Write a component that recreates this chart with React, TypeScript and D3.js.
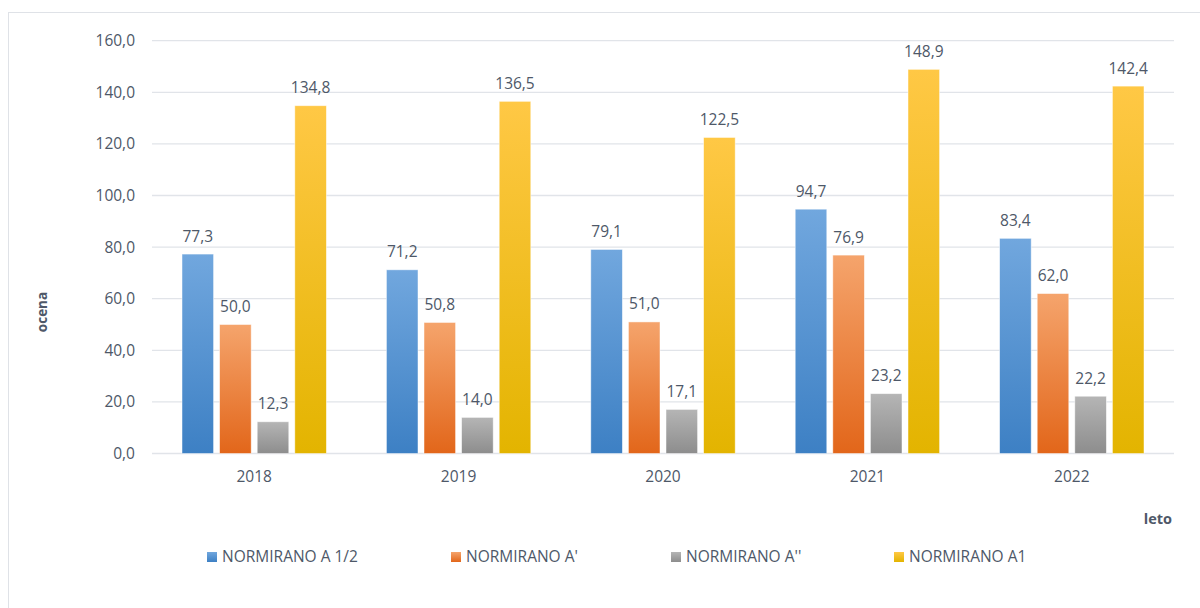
import React from "react";
import * as d3 from "d3";

const years = ["2018", "2019", "2020", "2021", "2022"];
const seriesNames = ["NORMIRANO A 1/2", "NORMIRANO A'", "NORMIRANO A''", "NORMIRANO A1"];
const valuesA12 = [77.3, 71.2, 79.1, 94.7, 83.4];
const valuesA1p = [50.0, 50.8, 51.0, 76.9, 62.0];
const valuesA2p = [12.3, 14.0, 17.1, 23.2, 22.2];
const valuesA1 = [134.8, 136.5, 122.5, 148.9, 142.4];
const yTicks = [0, 20, 40, 60, 80, 100, 120, 140, 160];

const seriesValues = [valuesA12, valuesA1p, valuesA2p, valuesA1];
const gradients = [
  ["#71a7de", "#3d80c4"],
  ["#f5a46c", "#e2661a"],
  ["#b5b5b5", "#8d8d8d"],
  ["#ffc845", "#e3b400"],
];

const W = 1200;
const H = 608;
const left = 152;
const right = 1174;
const top = 40.7;
const bottom = 453.5;
const textColor = "#4e5868";
const font = "'Open Sans', 'Noto Sans', sans-serif";
const fs = 15.5;

export default function App() {
  const x = d3.scaleBand<string>().domain(years).range([left, right]).paddingInner(0).paddingOuter(0);
  const y = d3.scaleLinear().domain([0, 160]).range([bottom, top]);
  const slot = 37.6;
  const barW = 31.6;
  const groupW = slot * 3 + barW;
  const fmt = (v: number) => v.toFixed(1).replace(".", ",");
  const legendX = [207, 451, 671, 894];

  return (
    <svg width={W} height={H} style={{ position: "fixed", left: 0, top: 0, background: "#fff" }} fontFamily={font}>
      <defs>
        {gradients.map((g, i) => (
          <linearGradient key={i} id={`g${i}`} x1="0" y1="0" x2="0" y2="1">
            <stop offset="0" stopColor={g[0]} />
            <stop offset="1" stopColor={g[1]} />
          </linearGradient>
        ))}
      </defs>
      <rect x={8.5} y={12.5} width={W} height={H} fill="#fff" stroke="#dfe2e7" strokeWidth={1} />
      {yTicks.map((t) => (
        <g key={t}>
          <line x1={left} x2={right} y1={y(t)} y2={y(t)} stroke="#e1e4e9" strokeWidth={1.3} />
          <text x={135} y={y(t)} dy="0.36em" textAnchor="end" fontSize={fs} fill={textColor}>
            {fmt(t)}
          </text>
        </g>
      ))}
      {years.map((yr, j) => {
        const cx = (x(yr) as number) + x.bandwidth() / 2;
        const x0 = cx - groupW / 2;
        return (
          <g key={yr}>
            {seriesValues.map((vals, i) => {
              const v = vals[j];
              const bx = x0 + i * slot;
              return (
                <g key={i}>
                  <rect
                    x={bx}
                    y={y(v)}
                    width={barW}
                    height={y(0) - y(v)}
                    fill={`url(#g${i})`}
                    stroke="#fff"
                    strokeOpacity={0.6}
                    strokeWidth={0.8}
                  />
                  <text x={bx + barW / 2} y={y(v) - 12.5} textAnchor="middle" fontSize={fs} fill={textColor}>
                    {fmt(v)}
                  </text>
                </g>
              );
            })}
            <text x={cx} y={481.5} textAnchor="middle" fontSize={fs} fill={textColor}>
              {yr}
            </text>
          </g>
        );
      })}
      <text x={1172} y={524} textAnchor="end" fontSize={14.5} fontWeight="bold" fill={textColor}>
        leto
      </text>
      <text
        transform={`translate(47,${312}) rotate(-90)`}
        textAnchor="middle"
        fontSize={13.5}
        fontWeight="bold"
        fill={textColor}
      >
        ocena
      </text>
      {seriesNames.map((n, i) => (
        <g key={n}>
          <rect x={legendX[i]} y={552} width={10} height={10} fill={`url(#g${i})`} />
          <text x={legendX[i] + 15} y={561.5} fontSize={fs} fill={textColor}>
            {n}
          </text>
        </g>
      ))}
    </svg>
  );
}
